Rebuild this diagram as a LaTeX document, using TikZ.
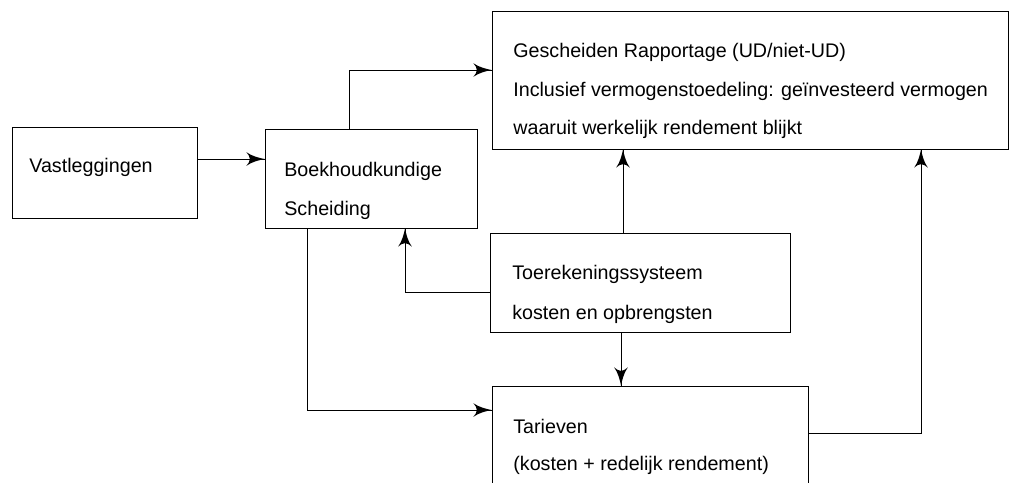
\documentclass[tikz,border=0pt]{standalone}
\usepackage{fontspec}
\setmainfont{Liberation Sans}
\usepackage{tikz}
\usetikzlibrary{arrows}
\usetikzlibrary{decorations.markings}
\tikzset{->/.style = {decoration={markings,
                                  mark=at position 1 with {\arrow[scale=3]{latex'}}},
                      postaction={decorate}}}
\tikzset{blok/.style = {draw, line width = 0.6pt, inner sep = 0}}
\tikzset{tekst/.style = {anchor = base west, inner sep = 0,
                         font = \fontsize{14}{16}\selectfont}}

\begin{document}
\begin{tikzpicture}[x = 0.025cm, y = -0.025cm, line width = 0.5pt]
    \useasboundingbox (0, 0) rectangle (1010, 482);
    \clip (0, 0) rectangle (1010, 482);

    % blokken
    \node [blok, minimum width = 4.625cm, minimum height = 2.275cm] (vast) at (104.5, 172.5) {};
    \node [blok, minimum width = 5.3cm, minimum height = 2.475cm] (boek) at (371, 178.5) {};
    \node [blok, minimum width = 12.9cm, minimum height = 3.45cm] (rapport) at (750, 80) {};
    \node [blok, minimum width = 7.5cm, minimum height = 2.475cm] (toer) at (640, 282.5) {};
    \node [blok, minimum width = 7.9cm, minimum height = 3.1cm] (tarief) at (650, 448) {};

    % teksten
    \node [tekst] (vast1) at (29, 172) {Vastleggingen};
    \node [tekst] (boek1) at (284, 176) {Boekhoudkundige};
    \node [tekst] (boek2) at (284, 215) {Scheiding};
    \node [tekst] (rapport1) at (513, 57) {Gescheiden Rapportage (UD/niet-UD)};
    \node [tekst] (rapport2) at (513, 96) {Inclusief vermogenstoedeling: geïnvesteerd vermogen};
    \node [tekst] (rapport3) at (513, 134) {waaruit werkelijk rendement blijkt};
    \node [tekst] (toer1) at (512, 279) {Toerekeningssysteem};
    \node [tekst] (toer2) at (512, 319) {kosten en opbrengsten};
    \node [tekst] (tarief1) at (513, 433) {Tarieven};
    \node [tekst] (tarief2) at (513, 470) {(kosten + redelijk rendement)};

    % pijlen
    \draw [->] (vast.east |- 0, 159) -- (boek.west |- 0, 159);
    \draw [->] (boek.north -| 349, 0) |- (rapport.west |- 0, 70);
    \draw [->] (toer.north -| 623, 0) -- (rapport.south -| 623, 0);
    \draw [->] (toer.west |- 0, 292) -| (boek.south -| 405, 0);
    \draw [->] (boek.south -| 307, 0) |- (tarief.west |- 0, 410);
    \draw [->] (toer.south -| 621, 0) -- (tarief.north -| 621, 0);
    \draw [->] (tarief.east |- 0, 433) -| (rapport.south -| 921, 0);
\end{tikzpicture}
\end{document}
